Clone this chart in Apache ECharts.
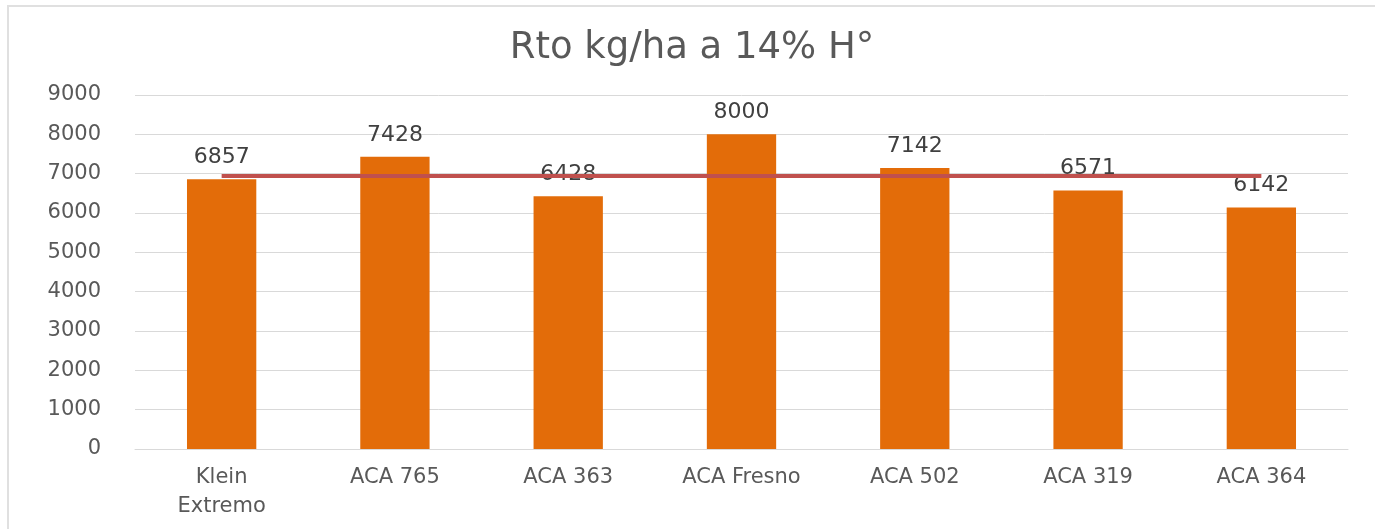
<!DOCTYPE html>
<html>
<head>
<meta charset="utf-8">
<script src="https://cdn.jsdelivr.net/npm/echarts@6/dist/echarts.min.js"></script>
<style>
  html, body { margin: 0; padding: 0; background: #ffffff; overflow: hidden; }
  #chart { position: absolute; left: 7px; top: 5px; width: 1368px; height: 524px; border-top: 2px solid #e0e0e0; border-left: 2px solid #e0e0e0; box-sizing: border-box; }
</style>
</head>
<body>
<div id="chart"></div>
<script>
const categories = ['Klein\nExtremo', 'ACA 765', 'ACA 363', 'ACA Fresno', 'ACA 502', 'ACA 319', 'ACA 364'];
const yields = [6857, 7428, 6428, 8000, 7142, 6571, 6142];
const average = [6938, 6938, 6938, 6938, 6938, 6938, 6938];

const chart = echarts.init(document.getElementById('chart'), null, { renderer: 'canvas' });
const font = '"DejaVu Sans", "Open Sans", sans-serif';

chart.setOption({
  animation: false,
  backgroundColor: '#ffffff',
  title: {
    text: 'Rto kg/ha a 14% H°',
    left: 'center',
    top: 18,
    textStyle: { fontFamily: font, fontSize: 37, fontWeight: 'normal', color: '#595959' }
  },
  grid: { left: 126, right: 27, top: 88, bottom: 80 },
  xAxis: {
    type: 'category',
    data: categories,
    axisTick: { show: false },
    axisLine: { lineStyle: { color: '#d9d9d9', width: 1 } },
    axisLabel: { fontFamily: font, fontSize: 21, color: '#595959', margin: 14, lineHeight: 29 }
  },
  yAxis: {
    type: 'value',
    min: 0,
    max: 9000,
    interval: 1000,
    axisLine: { show: false },
    axisTick: { show: false },
    splitLine: { lineStyle: { color: '#d9d9d9', width: 1 } },
    axisLabel: { fontFamily: font, fontSize: 21, color: '#595959', margin: 34, formatter: (v) => String(v) }
  },
  series: [
    {
      type: 'bar',
      data: yields,
      barWidth: '40%',
      itemStyle: { color: '#e36c09' },
      label: { show: true, position: 'top', distance: 11, fontFamily: font, fontSize: 22, color: '#404040' }
    },
    {
      type: 'line',
      data: average,
      symbol: 'none',
      lineStyle: { color: '#c0504d', width: 4 }
    }
  ]
});
</script>
</body>
</html>
